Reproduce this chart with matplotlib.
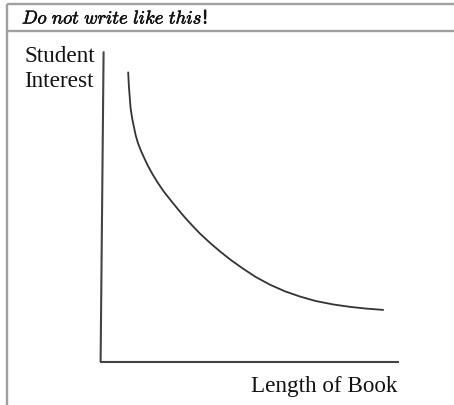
import numpy as np
import matplotlib
matplotlib.use("Agg")
import matplotlib.pyplot as plt
import matplotlib.patheffects as pe

# sketch of "student interest vs length of book"
length = [0.94, 0.96, 0.99, 1.02, 1.07, 1.13, 1.19, 1.27, 1.37, 1.48, 1.60,
          1.75, 1.93, 2.13, 2.37, 2.60, 2.83, 3.07, 3.33, 3.67, 4.00, 4.37,
          4.77, 5.20, 5.67, 6.17, 6.67, 7.20, 7.77, 8.33, 8.90, 9.43]
interest = [9.55, 9.14, 8.75, 8.38, 8.05, 7.76, 7.48, 7.21, 6.96, 6.72, 6.47,
            6.20, 5.91, 5.62, 5.32, 5.04, 4.77, 4.51, 4.24, 3.93, 3.65, 3.36,
            3.08, 2.80, 2.55, 2.33, 2.16, 2.01, 1.90, 1.82, 1.76, 1.72]
x_label = "Length of Book"
y_label = "Student\nInterest"
header = "Do not write like this"

W, H = 454, 406
fig = plt.figure(figsize=(W / 100, H / 100), dpi=100)

# frame around the example box, in pixel units
frame = fig.add_axes([0, 0, 1, 1])
frame.set_xlim(0, W)
frame.set_ylim(H, 0)
frame.axis("off")
grey = "#a0a0a0"
frame.plot([7, W], [5, 5], color=grey, lw=1.7, solid_capstyle="butt")
frame.plot([7, W], [32, 32], color=grey, lw=1.7, solid_capstyle="butt")
frame.plot([7, 7], [5, H], color=grey, lw=1.7, solid_capstyle="butt")

plt.rcParams["mathtext.fontset"] = "cm"
frame.text(22, 24.5, r"$\mathit{" + header.replace(" ", r"\ ") + "}$!",
           fontsize=13.4, ha="left", va="baseline", color="#111111",
           path_effects=[pe.withStroke(linewidth=0.4, foreground="#111111")])

# the chart itself
ax = fig.add_axes([100 / W, (H - 363) / H, 300 / W, 303 / H])
ax.set_xlim(0, 10)
ax.set_ylim(0, 10)
ax.axis("off")
axc = "#444444"
ax.plot([0, 9.97], [0, 0], color=axc, lw=1.5, clip_on=False, solid_capstyle="butt")
ax.plot([0.02, 0.12], [0, 10.25], color=axc, lw=1.5, clip_on=False, solid_capstyle="butt")
ax.plot(length, interest, color="#333333", lw=1.3, clip_on=False,
        solid_joinstyle="round")

serif = ["Liberation Serif", "DejaVu Serif"]
frame.text(24, 87, y_label, family=serif, fontsize=16.7, ha="left", va="baseline",
           multialignment="left", linespacing=1.25, color="#111111")
frame.text(397, 392, x_label, family=serif, fontsize=16.7, ha="right", va="baseline",
           color="#111111")

fig.savefig("out.png", dpi=100)
